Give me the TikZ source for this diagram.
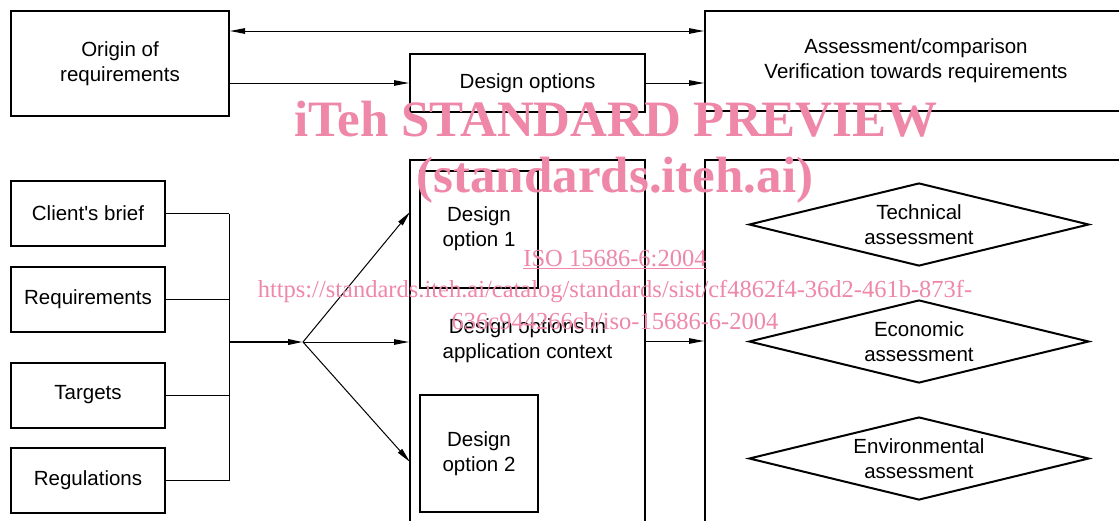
\documentclass[tikz,border=0pt]{standalone}
\usepackage{fontspec}
\setmainfont{Liberation Sans}
\newfontfamily\wmfont{Liberation Serif}
\usepackage{xcolor}
\usepackage{tikz}
\usetikzlibrary{shapes.geometric, arrows.meta, positioning, calc}
\definecolor{wmpink}{RGB}{238,135,168}
\newcommand\straightq{\XeTeXglyph\XeTeXcharglyph"27 }

\begin{document}
\begin{tikzpicture}[x=1pt, y=-1pt,
  box/.style={rectangle, draw, line width=2pt, align=center, inner sep=0pt, font=\fontsize{20.5}{25}\selectfont},
  check/.style={diamond, aspect=4.1, draw, line width=2pt, align=center, inner sep=0pt, minimum width=340pt, minimum height=83pt, font=\fontsize{20.5}{25}\selectfont},
  link/.style={line width=1pt},
  arr/.style={line width=1pt, -{Triangle[length=15pt, width=5.5pt]}},
  wmtext/.style={text=wmpink, align=center, inner sep=0pt}
]
  \useasboundingbox (0,0) rectangle (1119,520);
  \clip (0,0) rectangle (1119,520);
  \node[box, minimum width=218pt, minimum height=105pt] (origin) at (120,63.5) {Origin of\\requirements};
  \node[box, minimum width=235pt, minimum height=58pt] (dopt) at (527.5,83) {Design options};
  \node[box, minimum width=422pt, minimum height=100pt] (assess) at (916,61) {Assessment/comparison\\Verification towards requirements};
  \node[box, minimum width=154pt, minimum height=65pt] (brief) at (88,213.5) {Client\straightq s brief};
  \node[box, minimum width=154pt, minimum height=65pt] (reqs) at (88,299) {Requirements};
  \node[box, minimum width=154pt, minimum height=65pt] (targets) at (88,395) {Targets};
  \node[box, minimum width=154pt, minimum height=65pt] (regs) at (88,480.5) {Regulations};
  \node[box, minimum width=235pt, minimum height=362pt] (context) at (527.5,341) {Design options in\\application context};
  \node[box, minimum width=118pt, minimum height=117pt] (opt1) at (479,229) {Design\\option 1};
  \node[box, minimum width=118pt, minimum height=117pt] (opt2) at (479,453.5) {Design\\option 2};
  \node[box, minimum width=422pt, minimum height=362pt] (eval) at (916,341) {};
  \node[check] (tech) at (919,224.5) {Technical\\assessment};
  \node[check] (econ) at (919,341.5) {Economic\\assessment};
  \node[check] (env) at (919,458.5) {Environmental\\assessment};

  \coordinate (topl) at ([yshift=-21pt]origin.north east);
  \coordinate (join) at (229,342);
  \coordinate (fan) at (303,342);
  \coordinate (up) at (410,212);
  \coordinate (down) at (410,462);

  \draw[arr, {Triangle[length=15pt, width=5.5pt]}-{Triangle[length=15pt, width=5.5pt]}] (topl) -- (topl -| assess.west);
  \draw[arr] (origin.east |- dopt.west) -- (dopt.west);
  \draw[arr] (dopt.east) -- (dopt.east -| assess.west);
  \foreach \n in {brief, reqs, targets, regs}
    \draw[link] (\n.east) -- (\n.east -| join);
  \draw[link] (brief.east -| join) -- (regs.east -| join);
  \draw[arr, line width=2pt] (join) -- (fan);
  \draw[arr] (fan) -- (up);
  \draw[arr] (fan) -- (fan -| context.west);
  \draw[arr] (fan) -- (down);
  \draw[arr] (context.east) -- (context.east -| eval.west);

  \node[wmtext, font=\wmfont\bfseries\fontsize{51}{51}\selectfont] (wmtitle) at (616,119) {iTeh STANDARD PREVIEW};
  \node[wmtext, font=\wmfont\bfseries\fontsize{51}{51}\selectfont] (wmsite) at (615,180) {(standards.iteh.ai)};
  \node[wmtext, font=\wmfont\fontsize{24.5}{31.5}\selectfont] (wmiso) at (615,289.5) {\underline{ISO 15686-6:2004}\\https://standards.iteh.ai/catalog/standards/sist/cf4862f4-36d2-461b-873f-\\636c944266cb/iso-15686-6-2004};
\end{tikzpicture}
\end{document}
